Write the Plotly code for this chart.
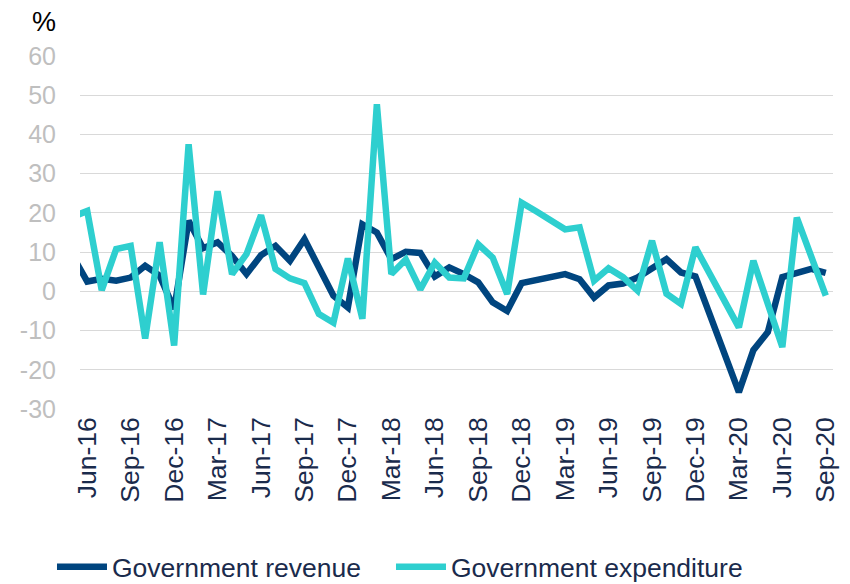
import plotly.graph_objects as go

months = [
    "May-16", "Jun-16", "Jul-16", "Aug-16", "Sep-16", "Oct-16", "Nov-16", "Dec-16",
    "Jan-17", "Feb-17", "Mar-17", "Apr-17", "May-17", "Jun-17", "Jul-17", "Aug-17",
    "Sep-17", "Oct-17", "Nov-17", "Dec-17",
    "Jan-18", "Feb-18", "Mar-18", "Apr-18", "May-18", "Jun-18", "Jul-18", "Aug-18",
    "Sep-18", "Oct-18", "Nov-18", "Dec-18",
    "Jan-19", "Feb-19", "Mar-19", "Apr-19", "May-19", "Jun-19", "Jul-19", "Aug-19",
    "Sep-19", "Oct-19", "Nov-19", "Dec-19",
    "Jan-20", "Feb-20", "Mar-20", "Apr-20", "May-20", "Jun-20", "Jul-20", "Aug-20", "Sep-20",
]

revenue = [
    9, 2.5, 3.2, 2.7, 3.5, 6.5, 4, -4.5,
    18, 11, 12.5, 9, 4.4, 9.2, 11.6, 7.8, 13.3, 6.1, -1.1, -4.1,
    17.1, 15, 8.2, 10.1, 9.8, 3.8, 6.1, 4.4, 2.3, -2.8, -5, 2.1,
    2.9, 3.6, 4.4, 3.1, -1.6, 1.5, 2, 3.5, 6, 8.2, 4.8, 3.8,
    -6, -15.8, -25.7, -15, -10.4, 3.6, 4.7, 5.7, 4.7,
]

expenditure = [
    19, 20.5, 0.3, 10.8, 11.6, -12, 12.5, -13.8,
    37.5, -0.8, 25.5, 4.4, 9.5, 19.4, 5.7, 3.3, 2.1, -5.8, -8, 8.4,
    -7, 47.7, 4.4, 8.1, 0.5, 7.3, 3.5, 3.3, 12, 8.6, -0.7, 22.6,
    20.4, 18.1, 15.8, 16.3, 2.7, 5.9, 3.6, 0.2, 12.9, -0.6, -3.2, 11.2,
    4.4, -2.4, -9.2, 7.8, -3.2, -14.2, 18.8, 8.8, -1.1,
]

tick_labels = [
    "Jun-16", "Sep-16", "Dec-16", "Mar-17", "Jun-17", "Sep-17", "Dec-17",
    "Mar-18", "Jun-18", "Sep-18", "Dec-18", "Mar-19", "Jun-19", "Sep-19",
    "Dec-19", "Mar-20", "Jun-20", "Sep-20",
]

y_ticks = [-30, -20, -10, 0, 10, 20, 30, 40, 50, 60]
y_tick_text = ["-30", "-20", "-10", "0", "10", "20", "30", "40", "50", "60"]

y_min, y_max = -30, 60
navy = "#00457f"
teal = "#2ecfcf"
label_col = "#1a2b4c"
grid_col = "#d9d9d9"
font_family = "Liberation Sans, Arial, sans-serif"

x_range = [months.index(tick_labels[0]) - 0.5, len(months) - 0.5]

fig = go.Figure()
fig.add_trace(go.Scatter(x=months, y=revenue, mode="lines", name="Government revenue",
                         line=dict(color=navy, width=6.5), legendwidth=274))
fig.add_trace(go.Scatter(x=months, y=expenditure, mode="lines", name="Government expenditure",
                         line=dict(color=teal, width=6.5), legendwidth=320))

fig.update_layout(
    width=850, height=584,
    margin=dict(l=72, r=25, t=48, b=183, autoexpand=False),
    paper_bgcolor="white", plot_bgcolor="white",
    font=dict(family=font_family, size=25, color=label_col),
    showlegend=True,
    legend=dict(orientation="h", x=-0.0372, xanchor="left", y=-0.448, yanchor="middle",
                font=dict(size=26.5, color=label_col),
                bgcolor="rgba(0,0,0,0)", itemwidth=50),
    xaxis=dict(type="category", categoryorder="array", categoryarray=months,
               range=x_range, tickmode="array", tickvals=tick_labels, ticktext=tick_labels,
               tickangle=-90, showgrid=False, zeroline=False, showline=False, ticks="",
               ticklabelstandoff=2, automargin=False,
               tickfont=dict(size=26.5, color=label_col)),
    xaxis2=dict(type="category", categoryorder="array", categoryarray=months,
                overlaying="x", anchor="free", position=(0 - y_min) / (y_max - y_min),
                range=x_range, tickmode="array", tickvals=tick_labels,
                tickson="boundaries", ticks="outside", ticklen=7, tickcolor="#d0d0d0",
                tickwidth=1, showticklabels=False, showgrid=False, zeroline=False,
                showline=True, linecolor=grid_col, linewidth=1, automargin=False),
    yaxis=dict(range=[y_min, y_max], tickmode="array", tickvals=y_ticks, ticktext=y_tick_text,
               showgrid=True, gridcolor=grid_col,
               gridwidth=1, zeroline=False, showline=False, ticks="",
               ticklabelstandoff=23, automargin=False,
               tickfont=dict(size=25, color="#bfbfbf")),
    annotations=[dict(text="%", xref="paper", yref="paper", x=0, y=1,
                      xanchor="right", yanchor="bottom", xshift=-22, yshift=17,
                      showarrow=False, font=dict(size=27, color="#000000"))],
)

fig.write_html("out.html")
